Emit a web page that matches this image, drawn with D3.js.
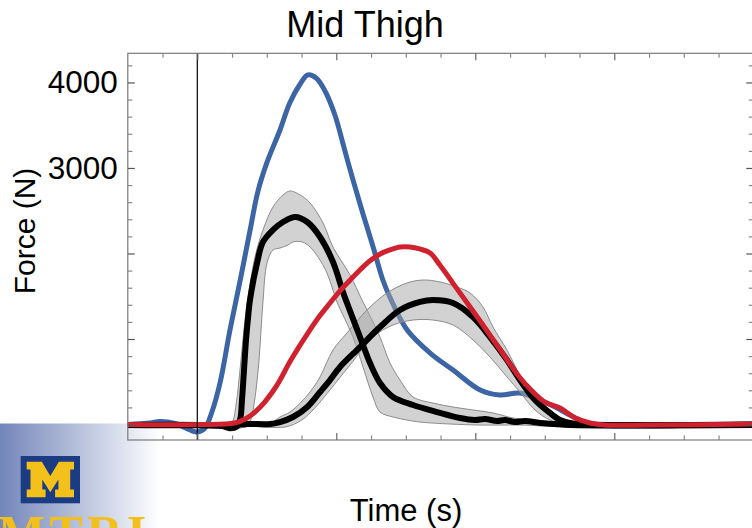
<!DOCTYPE html>
<html><head><meta charset="utf-8">
<script src="https://cdn.jsdelivr.net/npm/d3@7"></script>
<style>html,body{margin:0;padding:0;background:#fff;} svg{display:block;font-family:"Liberation Sans",Arial,sans-serif;}</style>
</head><body><svg id="c" width="752" height="528"></svg>
<script>
// ---------- text ----------
const chartTitle = "Mid Thigh";
const xLabel = "Time (s)";
const yLabel = "Force (N)";
const yTickLabels = [3000, 4000];
const logoText = "MTRI";

// ---------- axes (time in ms, force in N) ----------
const xDomain = [-10, 80];
const yDomain = [-181, 4341];
const xMajorTicks = [0, 20, 40, 60, 80];
const xMinorTicks = [-5, 5, 10, 15, 25, 30, 35, 45, 50, 55, 65, 70, 75];
const yMajorTicks = [0, 1000, 2000, 3000, 4000];
const yMinorTicks = [200, 400, 600, 800, 1200, 1400, 1600, 1800, 2200, 2400, 2600, 2800, 3200, 3400, 3600, 3800, 4200];
const markerTime = 0;

// ---------- series: [time ms, force N] ----------
const blueSeries = [[-10.1,0],[-6.8,18],[-5.4,35],[-3.2,12],[-1.05,-64],[0,-88],[1.1,-41],[2.1,146],[3.3,497],[4.7,1105],[6.2,1700],[7.6,2275],[8.7,2719],[10.0,3059],[11.9,3444],[13.3,3760],[14.8,3982],[15.9,4088],[17.1,4053],[18.3,3912],[19.8,3620],[21.2,3211],[22.4,2860],[23.8,2474],[25.3,2076],[26.7,1690],[27.7,1491],[30.2,1105],[33.5,836],[36.8,637],[40.7,403],[43.5,345],[46.4,368],[49.3,287],[51.5,205],[53.6,111],[55.8,29],[58.0,-6],[60.8,-18],[72.3,-6],[80,6]];

const redSeries = [[-10.1,0],[0.4,0],[5.4,18],[6.9,64],[8.3,146],[9.7,263],[11.2,427],[11.9,520],[13.3,731],[14.8,930],[16.2,1105],[17.6,1269],[19.1,1421],[20.5,1561],[22.0,1690],[23.4,1807],[24.8,1912],[26.3,1994],[27.7,2041],[29.2,2076],[30.6,2076],[32.0,2053],[33.5,2006],[34.9,1865],[37.8,1538],[40.7,1210],[43.5,883],[46.4,550],[47.9,415],[50.0,263],[52.2,193],[54.4,76],[56.5,18],[58.7,-6],[65.1,-6],[80,6]];

const black1Series = [[-10.1,-6],[0.39,-6],[3.55,-18],[4.70,-41],[5.57,-29],[6.14,53],[6.43,287],[6.72,637],[7.01,988],[7.30,1246],[7.58,1456],[8.60,1889],[9.45,2135],[10.89,2275],[12.33,2368],[14.10,2427],[15.82,2368],[17.66,2193],[19.52,1901],[20.96,1550],[21.54,1421],[23.41,1023],[24.85,719],[26.29,485],[28.16,322],[31.04,228],[34.49,146],[37.80,76],[39.96,53],[41.40,64],[43.12,41],[44.27,53],[45.71,29],[47.15,41],[49.30,18],[51.47,6],[53.63,-6],[80,-6]];

const black2Series = [[-10.1,-6],[4.70,-6],[7.15,6],[10.46,6],[11.90,29],[13.77,88],[15.82,205],[17.66,380],[19.09,520],[20.53,673],[23.41,906],[26.29,1140],[29.17,1339],[32.04,1433],[33.92,1456],[36.79,1421],[39.67,1257],[42.12,1023],[44.56,754],[46.43,520],[48.59,287],[50.75,135],[52.19,53],[53.63,18],[56.50,0],[80,0]];

const band1Upper = [[0.39,-6],[3.99,6],[4.99,29],[5.57,228],[6.14,637],[6.86,1222],[7.30,1491],[8.30,1959],[9.45,2275],[10.89,2544],[12.33,2684],[13.34,2731],[14.81,2684],[16.22,2591],[18.09,2357],[19.52,2076],[21.97,1749],[23.70,1456],[25.14,1222],[26.29,1023],[27.73,719],[29.17,520],[31.04,322],[33.92,251],[36.79,205],[39.67,170],[42.55,135],[45.42,76],[47.87,53],[50.75,18],[53.63,-6]];
const band1Lower = [[0.39,-6],[3.55,-41],[4.70,-76],[6.14,-41],[7.30,-18],[7.87,111],[8.45,404],[8.88,754],[9.17,1105],[9.45,1433],[10.03,1889],[10.89,2041],[11.90,2064],[13.05,2099],[13.77,2135],[15.10,2135],[16.22,2076],[17.37,1959],[18.66,1772],[19.52,1573],[20.10,1433],[22.40,1023],[23.84,673],[25.28,322],[26.29,146],[28.16,88],[30.17,53],[32.04,29],[36.36,6],[40.68,-6],[46.43,-6],[53.63,-18]];

const band2Upper = [[7.58,6],[10.46,18],[11.90,88],[13.34,146],[14.81,251],[16.22,380],[17.66,556],[19.52,871],[21.54,1070],[24.41,1339],[27.29,1538],[30.17,1655],[32.48,1690],[34.92,1667],[37.37,1608],[39.24,1538],[41.11,1374],[42.55,1140],[44.56,871],[46.43,579],[47.87,427],[50.03,228],[52.19,76],[54.35,6],[57.94,-6]];
const band2Lower = [[7.58,-18],[12.62,-29],[14.81,41],[16.22,135],[17.66,263],[19.09,404],[21.97,696],[25.28,1023],[28.16,1164],[31.04,1222],[33.92,1222],[36.79,1164],[39.67,989],[42.12,789],[44.56,556],[46.43,380],[48.59,170],[50.75,53],[52.91,6],[57.94,-18]];

// ---------- drawing ----------
const svg = d3.select("#c");
const frame = {left: 127.8, right: 753.3, top: 53.3, bottom: 440};
const x = d3.scaleLinear().domain(xDomain).range([frame.left, frame.right]);
const y = d3.scaleLinear().domain(yDomain).range([frame.bottom, frame.top]);

const defs = svg.append("defs");
const grad = defs.append("linearGradient").attr("id", "logoGrad").attr("x1", 0).attr("x2", 1).attr("y1", 0).attr("y2", 0);
grad.append("stop").attr("offset", "0%").attr("stop-color", "#7386ba");
grad.append("stop").attr("offset", "50%").attr("stop-color", "#b8c2dc");
grad.append("stop").attr("offset", "100%").attr("stop-color", "#ffffff");
defs.append("clipPath").attr("id", "plotClip").append("rect")
  .attr("x", frame.left).attr("y", frame.top).attr("width", frame.right - frame.left).attr("height", frame.bottom - frame.top);

// logo
const logo = svg.append("g");
logo.append("rect").attr("x", 0).attr("y", 423.5).attr("width", 160).attr("height", 105).attr("fill", "url(#logoGrad)");
logo.append("rect").attr("x", 20.7).attr("y", 456).attr("width", 59.3).attr("height", 47.3).attr("fill", "#1b3b83");
const mShape = [[0,0],[0.32,0],[0.5,0.4],[0.68,0],[1,0],[1,0.22],[0.92,0.22],[0.92,0.78],[1,0.78],[1,1],[0.6,1],[0.6,0.78],[0.67,0.78],[0.67,0.5],[0.5,0.86],[0.33,0.5],[0.33,0.78],[0.4,0.78],[0.4,1],[0,1],[0,0.78],[0.08,0.78],[0.08,0.22],[0,0.22]];
const mx = 26.7, my = 461.7, mw = 47.3, mh = 35.6;
logo.append("path").attr("d", "M" + mShape.map(p => (mx + p[0]*mw).toFixed(1) + "," + (my + p[1]*mh).toFixed(1)).join("L") + "Z").attr("fill", "#f4c11c");
logo.append("text").attr("x", -2).attr("y", 550).attr("font-family", "'Liberation Serif',serif").attr("font-weight", "bold")
  .attr("font-size", 50).attr("letter-spacing", 4).attr("fill", "#f3bf1d").text(logoText);

// curves
const plot = svg.append("g").attr("clip-path", "url(#plotClip)");
const lineGen = d3.line().x(d => x(d[0])).y(d => y(d[1])).curve(d3.curveCatmullRom.alpha(0.5));
const bandGen = d3.line().x(d => x(d[0])).y(d => y(d[1])).curve(d3.curveCatmullRom.alpha(0.5));

plot.append("path").attr("d", lineGen(blueSeries)).attr("fill", "none").attr("stroke", "#3b65a5").attr("stroke-width", 5).attr("stroke-linejoin", "round");

[[band1Upper, band1Lower], [band2Upper, band2Lower]].forEach(([u, l]) => {
  const poly = u.concat(l.slice().reverse());
  plot.append("path").attr("d", bandGen(poly) + "Z")
    .attr("fill", "#a6a6a6").attr("fill-opacity", 0.5)
    .attr("stroke", "#8c8c8c").attr("stroke-width", 1);
});

plot.append("path").attr("d", lineGen(black1Series)).attr("fill", "none").attr("stroke", "#000").attr("stroke-width", 6).attr("stroke-linejoin", "round");
plot.append("path").attr("d", lineGen(black2Series)).attr("fill", "none").attr("stroke", "#000").attr("stroke-width", 6).attr("stroke-linejoin", "round");
plot.append("path").attr("d", lineGen(redSeries)).attr("fill", "none").attr("stroke", "#d0222e").attr("stroke-width", 5).attr("stroke-linejoin", "round");

// marker line at t = 0
svg.append("line").attr("x1", x(markerTime)).attr("x2", x(markerTime)).attr("y1", frame.top).attr("y2", frame.bottom)
  .attr("stroke", "#000").attr("stroke-width", 1.2);

// frame
svg.append("rect").attr("x", frame.left).attr("y", frame.top).attr("width", frame.right - frame.left).attr("height", frame.bottom - frame.top)
  .attr("fill", "none").attr("stroke", "#7a7a7a").attr("stroke-width", 1.2);

function styleAxis(g, color) {
  g.select(".domain").remove();
  g.selectAll(".tick line").attr("stroke", color).attr("stroke-width", 1.2);
}
svg.append("g").attr("transform", `translate(0,${frame.bottom})`)
  .call(d3.axisBottom(x).tickValues(xMajorTicks).tickSize(-7).tickFormat("")).call(g => styleAxis(g, "#666"));
svg.append("g").attr("transform", `translate(0,${frame.bottom})`)
  .call(d3.axisBottom(x).tickValues(xMinorTicks).tickSize(-4.5).tickFormat("")).call(g => styleAxis(g, "#888"));
svg.append("g").attr("transform", `translate(0,${frame.top})`)
  .call(d3.axisTop(x).tickValues(xMajorTicks).tickSize(-7).tickFormat("")).call(g => styleAxis(g, "#666"));
svg.append("g").attr("transform", `translate(0,${frame.top})`)
  .call(d3.axisTop(x).tickValues(xMinorTicks).tickSize(-4.5).tickFormat("")).call(g => styleAxis(g, "#888"));
const leftMajor = svg.append("g").attr("transform", `translate(${frame.left},0)`)
  .call(d3.axisLeft(y).tickValues(yMajorTicks).tickSize(-7).tickPadding(10)
    .tickFormat(d => yTickLabels.includes(d) ? String(d) : ""));
styleAxis(leftMajor, "#555");
leftMajor.selectAll("text").attr("font-size", 31.5).attr("fill", "#000").attr("font-family", "'Liberation Sans',Arial,sans-serif");
svg.append("g").attr("transform", `translate(${frame.left},0)`)
  .call(d3.axisLeft(y).tickValues(yMinorTicks).tickSize(-4.5).tickFormat("")).call(g => styleAxis(g, "#888"));
svg.append("g").attr("transform", `translate(${frame.right},0)`)
  .call(d3.axisRight(y).tickValues(yMajorTicks).tickSize(-7).tickFormat("")).call(g => styleAxis(g, "#555"));
svg.append("g").attr("transform", `translate(${frame.right},0)`)
  .call(d3.axisRight(y).tickValues(yMinorTicks).tickSize(-4.5).tickFormat("")).call(g => styleAxis(g, "#888"));

// labels
svg.append("text").attr("x", 365).attr("y", 37).attr("text-anchor", "middle").attr("font-size", 36).attr("fill", "#000").text(chartTitle);
svg.append("text").attr("x", 406).attr("y", 521).attr("text-anchor", "middle").attr("font-size", 31).attr("fill", "#000").text(xLabel);
svg.append("text").attr("transform", "translate(35,231) rotate(-90)").attr("text-anchor", "middle").attr("font-size", 30).attr("fill", "#000").text(yLabel);
</script></body></html>
